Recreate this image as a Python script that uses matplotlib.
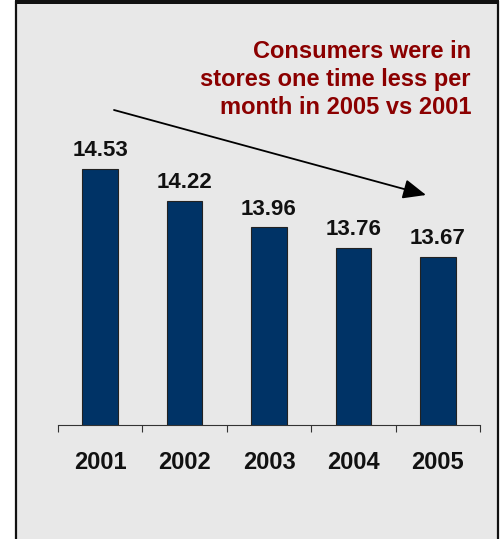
import matplotlib
matplotlib.use("Agg")
import matplotlib.pyplot as plt
from matplotlib.patches import Rectangle, FancyArrowPatch

plt.rcParams['font.family'] = ['Liberation Sans', 'DejaVu Sans']

years = ["2001", "2002", "2003", "2004", "2005"]
visits = [14.53, 14.22, 13.96, 13.76, 13.67]
note = "Consumers were in\nstores one time less per\nmonth in 2005 vs 2001"

W, H = 504, 539
fig = plt.figure(figsize=(W / 100, H / 100), dpi=100)
fig.patch.set_facecolor("white")


def fx(px):
    return px / W


def fy(py):
    return 1 - py / H


# grey panel with black frame and heavier top band
fig.patches.append(Rectangle((fx(16), fy(545)), fx(498) - fx(16), fy(2) - fy(545),
                             transform=fig.transFigure, facecolor="#E8E8E8",
                             edgecolor="#111111", linewidth=1.6, zorder=-2))
fig.patches.append(Rectangle((fx(15), fy(4)), fx(499) - fx(15), fy(0) - fy(4),
                             transform=fig.transFigure, facecolor="#111111",
                             edgecolor="none", zorder=-1))

ax_left, ax_right, ax_bottom, ax_top = 58, 480, 425, 36
ax = fig.add_axes([fx(ax_left), fy(ax_bottom), fx(ax_right) - fx(ax_left),
                   fy(ax_top) - fy(ax_bottom)])
ax.set_zorder(1)
ax.patch.set_visible(False)

x = range(len(years))
ax.bar(x, visits, width=0.42, bottom=0, color="#003366", edgecolor="#222222",
       linewidth=0.8, zorder=2)
ax.set_ylim(12.03, 15.83)
ax.set_xlim(-0.5, len(years) - 0.5)

for xi, v in zip(x, visits):
    ax.annotate(f"{v:.2f}", (xi, v), xytext=(0, 5.5), textcoords="offset points",
                ha="center", va="bottom", fontsize=16, fontweight="bold",
                color="#111111")

for s in ["left", "right", "top"]:
    ax.spines[s].set_visible(False)
ax.spines["bottom"].set_color("#333333")
ax.spines["bottom"].set_linewidth(0.8)
ax.set_yticks([])
ax.set_xticks(list(x))
ax.set_xticklabels(years, fontsize=17, fontweight="bold", color="#111111")
ax.tick_params(axis="x", which="major", length=0, pad=19)
ax.set_xticks([i - 0.5 for i in range(len(years) + 1)], minor=True)
ax.tick_params(axis="x", which="minor", length=5, width=0.8, color="#333333",
               direction="out")

fig.text(fx(471), fy(40), note, ha="right", va="top", multialignment="right",
         fontsize=17, fontweight="bold", color="#8B0000", linespacing=1.29,
         zorder=3)

arrow = FancyArrowPatch((fx(114), fy(110)), (fx(426), fy(195)),
                        transform=fig.transFigure,
                        arrowstyle="-|>,head_length=0.7,head_width=0.3",
                        mutation_scale=20, color="black", linewidth=1.3,
                        shrinkA=0, shrinkB=0, zorder=3)
fig.patches.append(arrow)

fig.savefig("out.png", dpi=100, facecolor=fig.get_facecolor())
